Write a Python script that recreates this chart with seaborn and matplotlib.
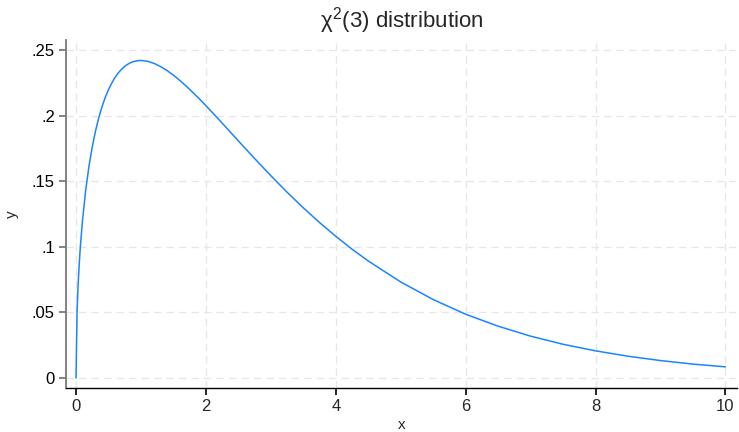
import matplotlib
matplotlib.use('Agg')
import matplotlib.pyplot as plt
import seaborn as sns
import pandas as pd

# values
x_vals = [0, 0.017, 0.033, 0.05, 0.067, 0.1, 0.15, 0.2, 0.25, 0.3, 0.35, 0.4, 0.45,
          0.5, 0.55, 0.6, 0.65, 0.7, 0.75, 0.8, 0.85, 0.9, 0.95, 1.0, 1.1, 1.2, 1.3,
          1.4, 1.5, 1.6, 1.7, 1.8, 1.9, 2.0, 2.25, 2.5, 2.75, 3.0, 3.25, 3.5, 3.75,
          4.0, 4.25, 4.5, 5.0, 5.5, 6.0, 6.5, 7.0, 7.5, 8.0, 8.5, 9.0, 9.5, 10.0]
y_vals = [0, 0.0516, 0.0713, 0.0870, 0.0999, 0.1200, 0.1433, 0.1614, 0.1760, 0.1881,
          0.1981, 0.2066, 0.2137, 0.2197, 0.2247, 0.2289, 0.2324, 0.2352, 0.2375,
          0.2392, 0.2405, 0.2413, 0.2418, 0.2420, 0.2414, 0.2398, 0.2374, 0.2344,
          0.2308, 0.2267, 0.2223, 0.2176, 0.2127, 0.2076, 0.1943, 0.1807, 0.1673,
          0.1542, 0.1416, 0.1297, 0.1185, 0.1080, 0.0982, 0.0892, 0.0732, 0.0598,
          0.0486, 0.0395, 0.0319, 0.0257, 0.0207, 0.0166, 0.0133, 0.0106, 0.0085]
x_ticks = [0, 2, 4, 6, 8, 10]
y_ticks = [0, 0.05, 0.1, 0.15, 0.2, 0.25]
y_ticklabels = ['0', '.05', '.1', '.15', '.2', '.25']

df = pd.DataFrame({'x': x_vals, 'y': y_vals})

sns.set_style('white', {'xtick.bottom': True, 'ytick.left': True})
plt.rcParams['font.family'] = ['Liberation Sans', 'DejaVu Sans']
plt.rcParams['mathtext.fontset'] = 'custom'
plt.rcParams['mathtext.rm'] = 'Liberation Sans'
plt.rcParams['mathtext.it'] = 'Liberation Sans'

fig = plt.figure(figsize=(7.39, 4.32), dpi=100)
ax = fig.add_axes([0.0893, 0.1019, 0.9081, 0.8056])

sns.lineplot(data=df, x='x', y='y', color='#1a85ff', linewidth=1.1, ax=ax)

ax.set_xlim(-0.154, 10.18)
ax.set_ylim(-0.0076, 0.2576)
ax.set_xticks(x_ticks)
ax.set_xticklabels([str(t) for t in x_ticks])
ax.set_yticks(y_ticks)
ax.set_yticklabels(y_ticklabels)

ax.grid(True, linestyle=(0, (6, 4)), color='#e6e6e6', linewidth=0.9)
ax.set_axisbelow(True)

for s in ['top', 'right']:
    ax.spines[s].set_visible(False)
ax.spines['left'].set_color('#7a7a7a')
ax.spines['left'].set_linewidth(1.3)
ax.spines['bottom'].set_color('black')
ax.spines['bottom'].set_linewidth(1.0)

ax.tick_params(axis='y', left=True, direction='out', length=5, width=1.2,
               color='#6e6e6e', labelsize=12, labelcolor='black', pad=3)
ax.tick_params(axis='x', bottom=True, direction='out', length=5, width=1.2,
               color='black', labelsize=12, pad=3)

ax.set_xlabel('x', fontsize=11, labelpad=3)
ax.set_ylabel('y', fontsize=11, labelpad=9)
ax.set_title(r'$\chi^2$(3) distribution', fontsize=16, pad=9)

fig.savefig('out.png', dpi=100)
